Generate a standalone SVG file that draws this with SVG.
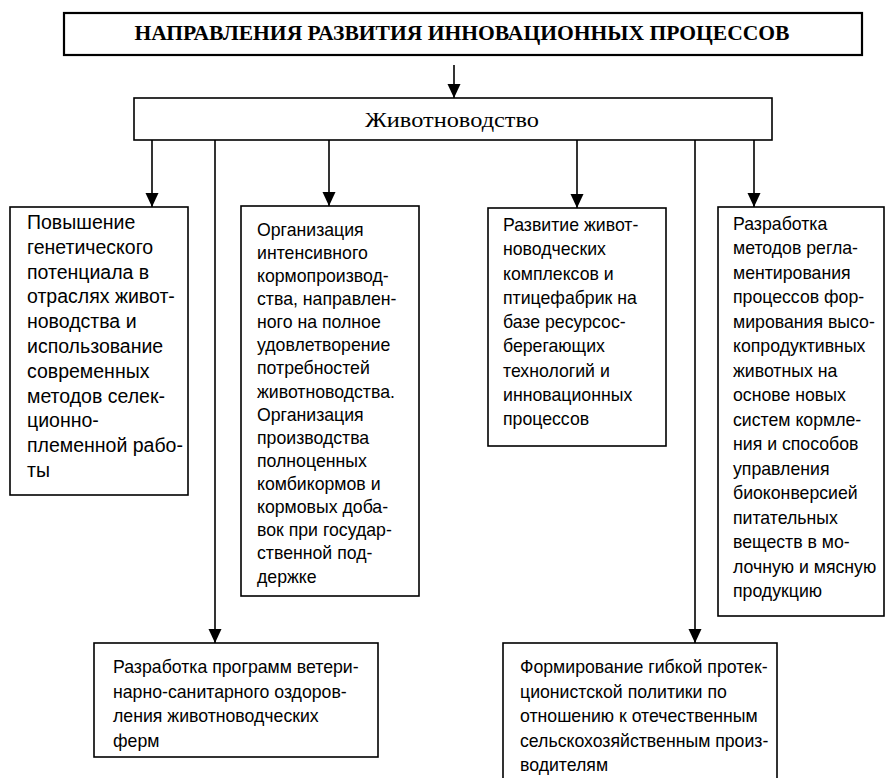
<svg xmlns="http://www.w3.org/2000/svg" width="886" height="778" viewBox="0 0 886 778">
<style>
.box{fill:#fff;stroke:#000;stroke-width:1.6}
.t{font-family:"Liberation Sans",Arial,sans-serif;font-size:17.7px;fill:#000}
.t1{font-size:19.5px}
.serif{font-family:"Liberation Serif","Times New Roman",serif;fill:#000}
.con{stroke:#000;stroke-width:1.6;fill:none}
</style>
<defs>
<marker id="ah" markerUnits="userSpaceOnUse" markerWidth="14" markerHeight="15" refX="14" refY="6.5" orient="auto">
<path d="M0,0 L14,6.5 L0,13 z" fill="#000"/>
</marker>
</defs>
<rect width="886" height="778" fill="#fff"/>
<g id="title">
<rect class="box" x="64" y="13" width="798" height="42" style="stroke-width:2.2"/>
<text class="serif" x="462" y="40" text-anchor="middle" font-size="21" font-weight="bold" textLength="655" lengthAdjust="spacingAndGlyphs">НАПРАВЛЕНИЯ РАЗВИТИЯ ИННОВАЦИОННЫХ ПРОЦЕССОВ</text>
</g>
<g id="livestock">
<rect class="box" x="134" y="98" width="638" height="42"/>
<text class="serif" x="452" y="127" text-anchor="middle" font-size="20" textLength="174" lengthAdjust="spacingAndGlyphs">Животноводство</text>
</g>
<g id="connectors">
<line class="con" x1="454" y1="65" x2="454" y2="98" marker-end="url(#ah)"/>
<line class="con" x1="152" y1="140" x2="152" y2="207" marker-end="url(#ah)"/>
<line class="con" x1="215" y1="140" x2="215" y2="643" marker-end="url(#ah)"/>
<line class="con" x1="329" y1="140" x2="329" y2="206" marker-end="url(#ah)"/>
<line class="con" x1="577" y1="140" x2="577" y2="208" marker-end="url(#ah)"/>
<line class="con" x1="695" y1="140" x2="695" y2="643" marker-end="url(#ah)"/>
<line class="con" x1="754" y1="140" x2="754" y2="207" marker-end="url(#ah)"/>
</g>
<g id="n1">
<rect class="box" x="10" y="207" width="178" height="288"/>
<text class="t t1">
<tspan x="27" y="229">Повышение</tspan>
<tspan x="27" y="254">генетического</tspan>
<tspan x="27" y="279">потенциала в</tspan>
<tspan x="27" y="303">отраслях живот-</tspan>
<tspan x="27" y="328">новодства и</tspan>
<tspan x="27" y="353">использование</tspan>
<tspan x="27" y="378">современных</tspan>
<tspan x="27" y="403">методов селек-</tspan>
<tspan x="27" y="427">ционно-</tspan>
<tspan x="27" y="452">племенной рабо-</tspan>
<tspan x="27" y="477">ты</tspan>
</text>
</g>
<g id="n2">
<rect class="box" x="241" y="206" width="178" height="390"/>
<text class="t">
<tspan x="257" y="236">Организация</tspan>
<tspan x="257" y="259">интенсивного</tspan>
<tspan x="257" y="282">кормопроизвод-</tspan>
<tspan x="257" y="305">ства, направлен-</tspan>
<tspan x="257" y="328">ного на полное</tspan>
<tspan x="257" y="351">удовлетворение</tspan>
<tspan x="257" y="374">потребностей</tspan>
<tspan x="257" y="398">животноводства.</tspan>
<tspan x="257" y="421">Организация</tspan>
<tspan x="257" y="444">производства</tspan>
<tspan x="257" y="467">полноценных</tspan>
<tspan x="257" y="490">комбикормов и</tspan>
<tspan x="257" y="513">кормовых доба-</tspan>
<tspan x="257" y="536">вок при государ-</tspan>
<tspan x="257" y="559">ственной под-</tspan>
<tspan x="257" y="583">держке</tspan>
</text>
</g>
<g id="n3">
<rect class="box" x="488" y="208" width="178" height="238"/>
<text class="t">
<tspan x="503" y="231">Развитие живот-</tspan>
<tspan x="503" y="255">новодческих</tspan>
<tspan x="503" y="280">комплексов и</tspan>
<tspan x="503" y="304">птицефабрик на</tspan>
<tspan x="503" y="328">базе ресурсос-</tspan>
<tspan x="503" y="352">берегающих</tspan>
<tspan x="503" y="377">технологий и</tspan>
<tspan x="503" y="401">инновационных</tspan>
<tspan x="503" y="425">процессов</tspan>
</text>
</g>
<g id="n4">
<rect class="box" x="718" y="207" width="166" height="409"/>
<text class="t">
<tspan x="733" y="230">Разработка</tspan>
<tspan x="733" y="254">методов регла-</tspan>
<tspan x="733" y="279">ментирования</tspan>
<tspan x="733" y="303">процессов фор-</tspan>
<tspan x="733" y="328">мирования высо-</tspan>
<tspan x="733" y="352">копродуктивных</tspan>
<tspan x="733" y="377">животных на</tspan>
<tspan x="733" y="401">основе новых</tspan>
<tspan x="733" y="426">систем кормле-</tspan>
<tspan x="733" y="450">ния и способов</tspan>
<tspan x="733" y="475">управления</tspan>
<tspan x="733" y="499">биоконверсией</tspan>
<tspan x="733" y="524">питательных</tspan>
<tspan x="733" y="548">веществ в мо-</tspan>
<tspan x="733" y="573">лочную и мясную</tspan>
<tspan x="733" y="597">продукцию</tspan>
</text>
</g>
<g id="n5">
<rect class="box" x="94" y="643" width="284" height="114"/>
<text class="t">
<tspan x="113" y="673">Разработка программ ветери-</tspan>
<tspan x="113" y="698">нарно-санитарного оздоров-</tspan>
<tspan x="113" y="722">ления животноводческих</tspan>
<tspan x="113" y="747">ферм</tspan>
</text>
</g>
<g id="n6">
<rect class="box" x="503" y="643" width="274" height="150"/>
<text class="t">
<tspan x="520" y="673">Формирование гибкой протек-</tspan>
<tspan x="520" y="698">ционистской политики по</tspan>
<tspan x="520" y="722">отношению к отечественным</tspan>
<tspan x="520" y="747">сельскохозяйственным произ-</tspan>
<tspan x="520" y="771">водителям</tspan>
</text>
</g>
</svg>
